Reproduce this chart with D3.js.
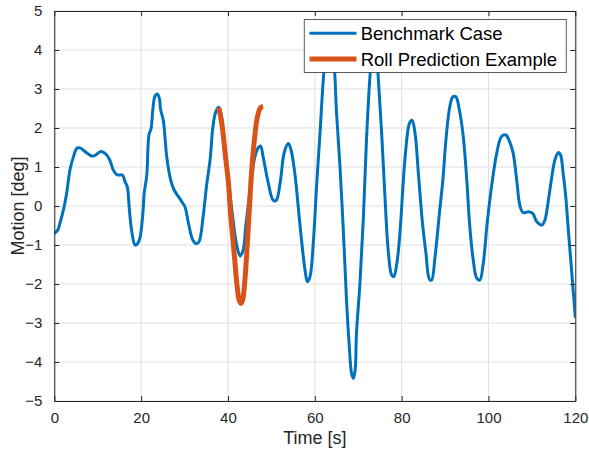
<!DOCTYPE html>
<html>
<head>
<meta charset="utf-8">
<script src="https://cdn.jsdelivr.net/npm/d3@7"></script>
<style>
  html, body { margin: 0; padding: 0; background: #fff; }
  svg { display: block; font-family: "Liberation Sans", Arial, Helvetica, sans-serif; }
</style>
</head>
<body>
<svg id="chart" width="589" height="449"></svg>
<script>
// ---- data ----
const benchTime = [0,0.8,1.3,2.1,2.85,3.6,4.4,5.2,5.9,6.7,7.5,8.6,9.4,10.7,11.7,12.7,13.6,14.4,15.7,16.3,16.8,17.3,17.8,18.6,19.1,19.7,20.4,20.7,21.3,21.8,22.3,22.7,23.2,23.7,24.2,24.5,25.1,25.9,26.8,27.6,28.6,29.6,30.1,30.9,31.9,32.8,33.4,34.3,35.1,35.9,36.5,37.2,37.9,38.5,39.2,40,41,42,42.8,43.5,44.1,45.1,46.2,47.0,47.5,48.1,49.3,50.4,51.1,52.0,53.0,53.9,54.5,55.4,56.6,57.7,58.3,58.9,59.7,60.4,61.2,61.9,62.5,63.4,64.2,64.6,65.0,65.8,66.6,67.3,67.9,68.5,68.9,69.3,69.6,70.4,71.2,71.9,72.7,73.2,73.8,74.3,74.6,75.4,76.2,76.9,77.7,78.2,78.9,79.6,80.8,81.8,82.4,83.1,83.8,84.8,85.6,86.4,86.9,87.7,88.7,89.5,90.2,91.1,91.8,92.5,93.3,94.2,95.0,95.7,96.4,97.3,98.0,98.8,99.7,100.7,101.9,103.0,104.0,105.0,105.7,106.5,107.3,108.0,109.2,110.2,111.1,112.3,113.0,113.8,114.6,115.3,116.1,116.6,117.2,117.8,118.4,119.2,120];
const benchValue = [-0.7,-0.62,-0.44,-0.1,0.33,0.92,1.26,1.48,1.49,1.43,1.36,1.28,1.3,1.4,1.35,1.2,0.92,0.8,0.79,0.62,0.5,-0.1,-0.62,-1.0,-0.98,-0.83,-0.19,0.32,0.79,1.82,1.99,2.48,2.82,2.87,2.76,2.46,2.2,1.26,0.67,0.41,0.24,0.07,-0.02,-0.44,-0.87,-0.97,-0.9,-0.25,0.55,1.2,2.0,2.42,2.53,2.3,1.6,0.8,-0.2,-1.0,-1.28,-1.13,-0.53,0.41,1.26,1.5,1.54,1.26,0.58,0.15,0.14,0.58,1.39,1.6,1.45,0.84,-0.5,-1.6,-1.94,-1.81,-0.87,0.49,1.86,3.15,3.9,4.3,4.0,3.4,2.4,1.01,-0.7,-2.41,-3.52,-4.32,-4.42,-4.2,-3.26,-1.98,-0.27,1.69,3.32,4.0,4.3,3.95,3.32,1.86,0.15,-1.13,-1.77,-1.81,-1.47,-0.7,1.25,2.12,2.2,1.86,0.92,-0.44,-1.21,-1.88,-1.9,-1.3,-0.19,0.67,1.69,2.55,2.8,2.8,2.46,1.78,0.67,-0.53,-1.3,-1.85,-1.9,-1.47,-0.44,0.49,1.35,1.78,1.82,1.61,1.35,0.67,-0.02,-0.17,-0.15,-0.19,-0.4,-0.49,-0.36,0.15,0.75,1.18,1.37,1.31,0.84,0.24,-0.62,-1.73,-2.84];

const predTime = [37.9,38.6,39.4,40.1,40.6,41.5,42.1,42.6,43.0,43.4,43.9,44.6,45.4,46.0,46.8,47.5,48.1];
const predValue = [2.52,2.1,1.3,0.6,-0.2,-1.3,-2.05,-2.42,-2.5,-2.4,-1.9,-0.7,0.8,1.6,2.3,2.52,2.55];

const xTicks = [0,20,40,60,80,100,120];
const yTicks = [-5,-4,-3,-2,-1,0,1,2,3,4,5];
const seriesNames = ["Benchmark Case","Roll Prediction Example"];
const seriesColors = ["#0072BD","#D95319"];

// ---- layout ----
const pL = 54.3, pR = 575.3, pT = 11, pB = 401;
const svg = d3.select("#chart");
const x = d3.scaleLinear().domain([0,120]).range([pL,pR]);
const y = d3.scaleLinear().domain([-5,5]).range([pB,pT]);
const axisColor = "#262626";

// grid
const grid = svg.append("g");
grid.selectAll(".gx").data(xTicks).enter().append("line")
  .attr("x1", d=>x(d)).attr("x2", d=>x(d)).attr("y1", pT).attr("y2", pB)
  .attr("stroke", "#dfdfdf").attr("stroke-width", 1);
grid.selectAll(".gy").data(yTicks).enter().append("line")
  .attr("y1", d=>y(d)).attr("y2", d=>y(d)).attr("x1", pL).attr("x2", pR)
  .attr("stroke", "#dfdfdf").attr("stroke-width", 1);

// data lines
const bench = benchTime.map((t,i)=>[t, benchValue[i]]);
const pred = predTime.map((t,i)=>[t, predValue[i]]);
const line = d3.line().x(d=>x(d[0])).y(d=>y(d[1])).curve(d3.curveCatmullRom.alpha(0.5));

svg.append("clipPath").attr("id","clip").append("rect")
  .attr("x", pL).attr("y", pT).attr("width", pR-pL).attr("height", pB-pT);

const plot = svg.append("g").attr("clip-path","url(#clip)");
plot.append("path").datum(bench).attr("d", line)
  .attr("fill","none").attr("stroke", seriesColors[0]).attr("stroke-width", 3)
  .attr("stroke-linejoin","round").attr("stroke-linecap","round");
plot.append("path").datum(pred).attr("d", line)
  .attr("fill","none").attr("stroke", seriesColors[1]).attr("stroke-width", 5)
  .attr("stroke-linejoin","round");

// axes (ticks inside, mirrored on top/right)
const tickLen = 5;
const fmt = d3.format("d");
const xAxisB = d3.axisBottom(x).tickValues(xTicks).tickSizeInner(-tickLen).tickSizeOuter(0).tickPadding(11).tickFormat(fmt);
const xAxisT = d3.axisTop(x).tickValues(xTicks).tickSizeInner(-tickLen).tickSizeOuter(0).tickFormat("");
const yAxisL = d3.axisLeft(y).tickValues(yTicks).tickSizeInner(-tickLen).tickSizeOuter(0).tickPadding(12).tickFormat(fmt);
const yAxisR = d3.axisRight(y).tickValues(yTicks).tickSizeInner(-tickLen).tickSizeOuter(0).tickFormat("");

function styleAxis(g){
  g.select(".domain").attr("stroke", axisColor).attr("stroke-width", 1);
  g.selectAll(".tick line").attr("stroke", axisColor).attr("stroke-width", 1);
  g.selectAll(".tick text").attr("fill", axisColor).style("font-size","15px")
    .style("font-family",'"Liberation Sans", Arial, sans-serif');
}
svg.append("g").attr("transform",`translate(0,${pB})`).call(xAxisB).call(styleAxis);
svg.append("g").attr("transform",`translate(0,${pT})`).call(xAxisT).call(styleAxis);
svg.append("g").attr("transform",`translate(${pL},0)`).call(yAxisL).call(styleAxis);
svg.append("g").attr("transform",`translate(${pR},0)`).call(yAxisR).call(styleAxis);

// axis labels
svg.append("text").attr("x", (pL+pR)/2).attr("y", 444)
  .attr("text-anchor","middle").attr("fill", axisColor).style("font-size","18px").text("Time [s]");
svg.append("text").attr("transform",`translate(24,${(pT+pB)/2}) rotate(-90)`)
  .attr("text-anchor","middle").attr("fill", axisColor).style("font-size","18px").text("Motion [deg]");

// legend
const lg = svg.append("g");
lg.append("rect").attr("x", 304.3).attr("y", 19.5).attr("width", 262).attr("height", 53)
  .attr("fill","#fff").attr("stroke","#262626").attr("stroke-opacity",0.75).attr("stroke-width",1);
const lyPos = [33.3, 59];
seriesNames.forEach((name,i)=>{
  lg.append("line").attr("x1",309.5).attr("x2",356.5).attr("y1",lyPos[i]).attr("y2",lyPos[i])
    .attr("stroke",seriesColors[i]).attr("stroke-width", i===0?3:5);
  lg.append("text").attr("x",360.7).attr("y",lyPos[i]+6.5).attr("fill","#000")
    .style("font-size","18.5px").text(name);
});
</script>
</body>
</html>
